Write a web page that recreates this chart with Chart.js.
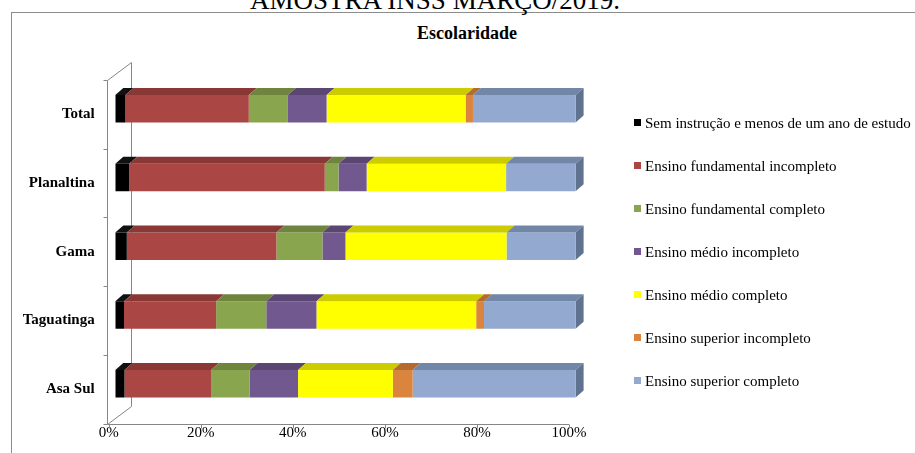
<!DOCTYPE html>
<html>
<head>
<meta charset="utf-8">
<script src="https://cdn.jsdelivr.net/npm/chart.js@4/dist/chart.umd.min.js"></script>
<style>
  html, body { margin: 0; padding: 0; background: #fff; overflow: hidden; }
  #wrap { position: relative; width: 915px; height: 453px; overflow: hidden; font-family: "Liberation Serif", "Times New Roman", serif; color: #000; }
  #frame { position: absolute; left: 11px; top: 12px; width: 2000px; height: 2000px; border: 1px solid #8c8c8c; }
  #heading { position: absolute; left: 435px; top: -13px; transform: translateX(-50%); font-size: 27px; line-height: 27px; white-space: nowrap; }
  #title { position: absolute; left: 467px; top: 22px; transform: translateX(-50%); font-size: 18px; line-height: 22px; font-weight: bold; white-space: nowrap; }
  #myChart { position: absolute; left: 0; top: 0; }
  #legend { position: absolute; left: 634px; top: 0; }
  .item { position: absolute; left: 0; height: 18px; white-space: nowrap; font-size: 15px; line-height: 18px; }
  .item .box { position: absolute; left: 0; top: 5px; width: 7px; height: 7px; }
  .item .txt { position: absolute; left: 11px; top: 0; }
</style>
</head>
<body>
<div id="wrap">
  <div id="frame"></div>
  <div id="heading">AMOSTRA INSS MARÇO/2019.</div>
  <div id="title">Escolaridade</div>
  <canvas id="myChart" width="915" height="453"></canvas>
  <div id="legend"></div>
</div>
<script>
// categories (top to bottom)
let regions = ['Total', 'Planaltina', 'Gama', 'Taguatinga', 'Asa Sul'];

// share of each schooling level, in %
let semInstrucao       = [2.2, 3.0, 2.5, 1.9, 2.0];
let fundIncompleto     = [26.8, 42.5, 32.5, 20.0, 18.8];
let fundCompleto       = [8.5, 3.0, 10.0, 10.9, 8.4];
let medioIncompleto    = [8.4, 6.1, 5.0, 10.9, 10.5];
let medioCompleto      = [30.2, 30.3, 35.0, 34.7, 20.6];
let superiorIncompleto = [1.6, 0, 0, 1.7, 4.3];
let superiorCompleto   = [22.3, 15.1, 15.0, 19.9, 35.4];

let seriesNames = [
    'Sem instrução e menos de um ano de estudo',
    'Ensino fundamental incompleto',
    'Ensino fundamental completo',
    'Ensino médio incompleto',
    'Ensino médio completo',
    'Ensino superior incompleto',
    'Ensino superior completo'
];
let seriesValues = [semInstrucao, fundIncompleto, fundCompleto, medioIncompleto, medioCompleto, superiorIncompleto, superiorCompleto];

let xTicks = [0, 20, 40, 60, 80, 100];

// front / top face colours
const frontColors = ['#000000', '#AA4643', '#89A54E', '#71588F', '#FFFF00', '#DB843D', '#93A9CF'];
const topColors   = ['#111111', '#8A3835', '#6F853E', '#5A4573', '#CCCC00', '#B56A2F', '#7286A8'];
const sideColor   = '#5F7391';

const depth = { dx: 8, dy: 7 };      // extrusion of each bar
const wall = { dx: 24, dy: -18 };    // back wall offset
const barShift = { x: 6.6, y: -5.5 };

const serif = '"Liberation Serif", "Times New Roman", serif';

// axis box, back wall and the 3d faces of the bars
const box3d = {
    id: 'box3d',
    beforeDatasetsDraw(chart) {
        const ctx = chart.ctx;
        const a = chart.chartArea;
        const xs = chart.scales.x;
        const l = Math.floor(xs.getPixelForValue(0)) - 0.5;
        const r = xs.getPixelForValue(100);
        const top = Math.round(a.top) + 0.5;
        const bottom = Math.round(a.bottom) + 0.5;

        ctx.save();
        ctx.strokeStyle = '#868686';
        ctx.lineWidth = 1;
        ctx.beginPath();
        ctx.moveTo(l, top);
        ctx.lineTo(l, bottom);
        ctx.lineTo(r, bottom);
        xTicks.forEach(v => {
            const px = Math.round(xs.getPixelForValue(v)) + 0.5;
            ctx.moveTo(px, bottom);
            ctx.lineTo(px, bottom + 4);
        });
        const n = regions.length;
        for (let i = 0; i <= n; i++) {
            const y = Math.round(a.top + (a.bottom - a.top) * i / n) + 0.5;
            ctx.moveTo(l - 4, y);
            ctx.lineTo(l, y);
        }
        ctx.moveTo(l, top);
        ctx.lineTo(l + wall.dx, top + wall.dy);
        ctx.lineTo(l + wall.dx, bottom + wall.dy);
        ctx.lineTo(l, bottom);
        ctx.stroke();
        ctx.restore();

        ctx.save();
        ctx.translate(barShift.x, barShift.y);
    },
    afterDatasetsDraw(chart) {
        const ctx = chart.ctx;
        const metas = chart.data.datasets.map((d, i) => chart.getDatasetMeta(i));

        metas.forEach((meta, i) => {
            meta.data.forEach((bar, j) => {
                if (!seriesValues[i][j]) return;
                const p = bar.getProps(['x', 'y', 'base', 'height'], true);
                const t = p.y - p.height / 2;
                ctx.fillStyle = topColors[i];
                ctx.beginPath();
                ctx.moveTo(p.base, t);
                ctx.lineTo(p.x, t);
                ctx.lineTo(p.x + depth.dx, t - depth.dy);
                ctx.lineTo(p.base + depth.dx, t - depth.dy);
                ctx.closePath();
                ctx.fill();
            });
        });

        // right side of each bar
        regions.forEach((r, j) => {
            let last = seriesValues.length - 1;
            while (last > 0 && !seriesValues[last][j]) last--;
            const p = metas[last].data[j].getProps(['x', 'y', 'base', 'height'], true);
            const t = p.y - p.height / 2;
            ctx.fillStyle = sideColor;
            ctx.beginPath();
            ctx.moveTo(p.x, t);
            ctx.lineTo(p.x + depth.dx, t - depth.dy);
            ctx.lineTo(p.x + depth.dx, t - depth.dy + p.height);
            ctx.lineTo(p.x, t + p.height);
            ctx.closePath();
            ctx.fill();
        });

        ctx.restore();
    }
};

let datasets = seriesNames.map((name, i) => ({
    label: name,
    data: seriesValues[i],
    backgroundColor: frontColors[i],
    borderWidth: 0,
    barPercentage: 1,
    categoryPercentage: 0.4
}));

myChart = new Chart(document.getElementById('myChart'), {
    type: 'bar',
    data: { labels: regions, datasets: datasets },
    plugins: [box3d],
    options: {
        indexAxis: 'y',
        responsive: false,
        animation: false,
        layout: { padding: { top: 80, right: 346, left: 0, bottom: 0 } },
        scales: {
            x: {
                stacked: true,
                min: 0,
                max: 100,
                grid: { display: false, drawTicks: false },
                border: { display: false },
                afterBuildTicks: s => { s.ticks = xTicks.map(v => ({ value: v })); },
                afterFit: s => { s.height = 29.5; },
                ticks: {
                    padding: 1,
                    color: '#000',
                    font: { family: serif, size: 15 },
                    callback: v => v + '%'
                }
            },
            y: {
                stacked: true,
                grid: { display: false, drawTicks: false },
                border: { display: false },
                afterFit: s => { s.width = 108.7; },
                ticks: {
                    padding: 14,
                    color: '#000',
                    font: { family: serif, size: 15, weight: 'bold' }
                }
            }
        },
        plugins: {
            legend: { display: false },
            title: { display: false },
            tooltip: { enabled: false }
        }
    }
});

// legend column beside the plot
const legendBox = document.getElementById('legend');
myChart.data.datasets.forEach((ds, i) => {
    const item = document.createElement('div');
    item.className = 'item';
    item.style.top = (123.3 + i * 42.9 - 9) + 'px';
    item.innerHTML = '<span class="box" style="background:' + ds.backgroundColor + '"></span><span class="txt">' + ds.label + '</span>';
    legendBox.appendChild(item);
});
</script>
</body>
</html>
